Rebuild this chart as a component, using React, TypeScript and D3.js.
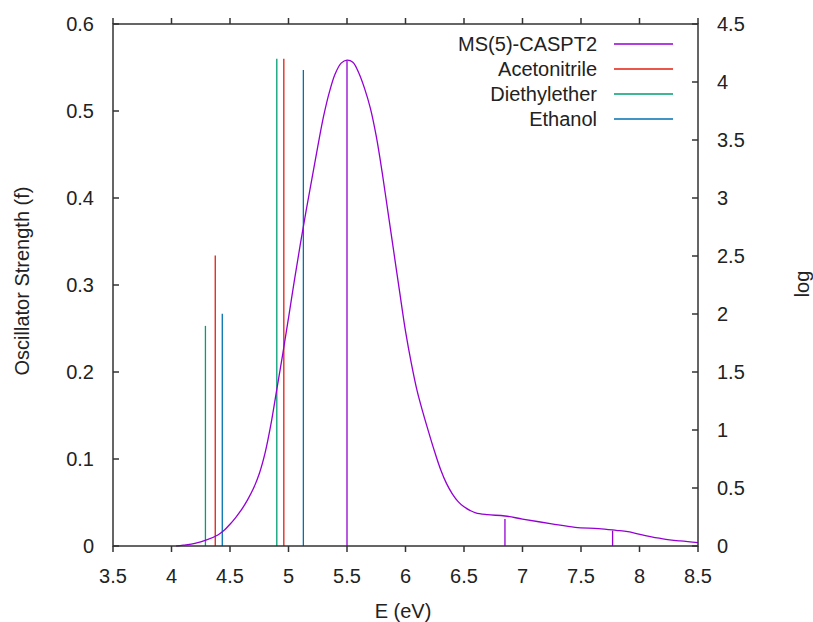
import React from "react";
import * as d3 from "d3";

// ---- data ----
const specE = [4.04, 4.1, 4.2, 4.3, 4.4, 4.45, 4.5, 4.55, 4.6, 4.65, 4.7, 4.75, 4.8, 4.85, 4.9, 4.95, 5.0, 5.05, 5.1, 5.15, 5.2, 5.25, 5.3, 5.35, 5.4, 5.45, 5.5, 5.55, 5.6, 5.65, 5.7, 5.75, 5.8, 5.85, 5.9, 5.95, 6.0, 6.05, 6.1, 6.15, 6.2, 6.25, 6.3, 6.35, 6.4, 6.45, 6.5, 6.55, 6.6, 6.7, 6.85, 7.0, 7.25, 7.45, 7.65, 7.8, 7.9, 8.05, 8.2, 8.35, 8.5];
const specF = [0.0, 0.001, 0.003, 0.007, 0.013, 0.018, 0.025, 0.033, 0.042, 0.053, 0.066, 0.083, 0.107, 0.14, 0.18, 0.22, 0.262, 0.305, 0.346, 0.385, 0.422, 0.459, 0.494, 0.522, 0.543, 0.555, 0.5585, 0.556, 0.544, 0.526, 0.503, 0.471, 0.43, 0.384, 0.338, 0.292, 0.247, 0.21, 0.178, 0.153, 0.13, 0.108, 0.088, 0.072, 0.06, 0.051, 0.045, 0.041, 0.038, 0.036, 0.0345, 0.031, 0.0255, 0.0215, 0.02, 0.018, 0.0165, 0.012, 0.0083, 0.0058, 0.0038];

const casptE = [5.5, 6.85, 7.77];
const casptF = [0.558, 0.031, 0.0177];
const acetonitrileE = [4.374, 4.96];
const acetonitrileF = [0.334, 0.56];
const diethyletherE = [4.29, 4.9];
const diethyletherF = [0.253, 0.56];
const ethanolE = [4.434, 5.127];
const ethanolF = [0.267, 0.547];

const seriesNames = ["MS(5)-CASPT2", "Acetonitrile", "Diethylether", "Ethanol"];
const seriesColors = ["#9400d3", "#e51e10", "#009e73", "#0072b2"];

const xTicks = [3.5, 4, 4.5, 5, 5.5, 6, 6.5, 7, 7.5, 8, 8.5];
const yTicks = [0, 0.1, 0.2, 0.3, 0.4, 0.5, 0.6];
const yTickLabels = ["0", "0.1", "0.2", "0.3", "0.4", "0.5", "0.6"];
const y2Ticks = [0, 0.5, 1, 1.5, 2, 2.5, 3, 3.5, 4, 4.5];
const y2TickLabels = ["0", "0.5", "1", "1.5", "2", "2.5", "3", "3.5", "4", "4.5"];

const W = 813;
const H = 622;
const L = 113, R = 698, T = 24, B = 546;
const FONT = "'Liberation Sans', Arial, sans-serif";

export default function App() {
  const x = d3.scaleLinear().domain([3.5, 8.5]).range([L, R]);
  const y = d3.scaleLinear().domain([0, 0.6]).range([B, T]);
  const y2 = d3.scaleLinear().domain([0, 4.5]).range([B, T]);

  const line = d3
    .line<number>()
    .x((_, i) => x(specE[i]))
    .y((d) => y(d))
    .curve(d3.curveCatmullRom.alpha(0.5));

  const sticks: { e: number[]; f: number[]; c: string }[] = [
    { e: diethyletherE, f: diethyletherF, c: seriesColors[2] },
    { e: acetonitrileE, f: acetonitrileF, c: seriesColors[1] },
    { e: ethanolE, f: ethanolF, c: seriesColors[3] },
    { e: casptE, f: casptF, c: seriesColors[0] },
  ];

  const textColor = "#222";
  const axisColor = "#333";

  return (
    <svg
      width={W}
      height={H}
      style={{ position: "absolute", left: 0, top: 0, background: "#fff" }}
      fontFamily={FONT}
    >
      <rect x={0} y={0} width={W} height={H} fill="#fff" />
      {/* sticks */}
      {sticks.map((s, si) =>
        s.e.map((e, i) => (
          <line
            key={`s${si}-${i}`}
            x1={x(e)}
            x2={x(e)}
            y1={y(0)}
            y2={y(s.f[i])}
            stroke={s.c}
            strokeWidth={1.3}
          />
        ))
      )}
      {/* spectrum */}
      <path d={line(specF) || ""} fill="none" stroke={seriesColors[0]} strokeWidth={1.3} />

      {/* frame */}
      <rect x={L} y={T} width={R - L} height={B - T} fill="none" stroke={axisColor} strokeWidth={1.5} />

      {/* x ticks */}
      {xTicks.map((t) => (
        <g key={`xt${t}`}>
          <line x1={x(t)} x2={x(t)} y1={B} y2={B + 6} stroke={axisColor} strokeWidth={1.5} />
          <line x1={x(t)} x2={x(t)} y1={T} y2={T - 6} stroke={axisColor} strokeWidth={1.5} />
          <text x={x(t)} y={583} textAnchor="middle" fontSize={20} fill={textColor}>
            {String(t)}
          </text>
        </g>
      ))}
      {/* y ticks */}
      {yTicks.map((t, i) => (
        <g key={`yt${t}`}>
          <line x1={L} x2={L + 6} y1={y(t)} y2={y(t)} stroke={axisColor} strokeWidth={1.5} />
          <text x={94} y={y(t)} dy="0.35em" textAnchor="end" fontSize={20} fill={textColor}>
            {yTickLabels[i]}
          </text>
        </g>
      ))}
      {/* y2 ticks */}
      {y2Ticks.map((t, i) => (
        <g key={`y2t${t}`}>
          <line x1={R} x2={R - 6} y1={y2(t)} y2={y2(t)} stroke={axisColor} strokeWidth={1.5} />
          <text x={717} y={y2(t)} dy="0.35em" textAnchor="start" fontSize={20} fill={textColor}>
            {y2TickLabels[i]}
          </text>
        </g>
      ))}

      {/* axis labels */}
      <text x={403} y={618} textAnchor="middle" fontSize={20} fill={textColor}>
        E (eV)
      </text>
      <text
        transform={`translate(28.5,281) rotate(-90)`}
        textAnchor="middle"
        fontSize={20}
        fill={textColor}
      >
        Oscillator Strength (f)
      </text>
      <text
        transform={`translate(809,284) rotate(-90)`}
        textAnchor="middle"
        fontSize={20}
        fill={textColor}
      >
        log
      </text>

      {/* legend */}
      {seriesNames.map((n, i) => {
        const yy = 44 + i * 25;
        return (
          <g key={`lg${n}`}>
            <text x={597} y={yy} dy="0.35em" textAnchor="end" fontSize={20} fill={textColor}>
              {n}
            </text>
            <line x1={614} x2={673} y1={yy} y2={yy} stroke={seriesColors[i]} strokeWidth={1.3} />
          </g>
        );
      })}
    </svg>
  );
}
